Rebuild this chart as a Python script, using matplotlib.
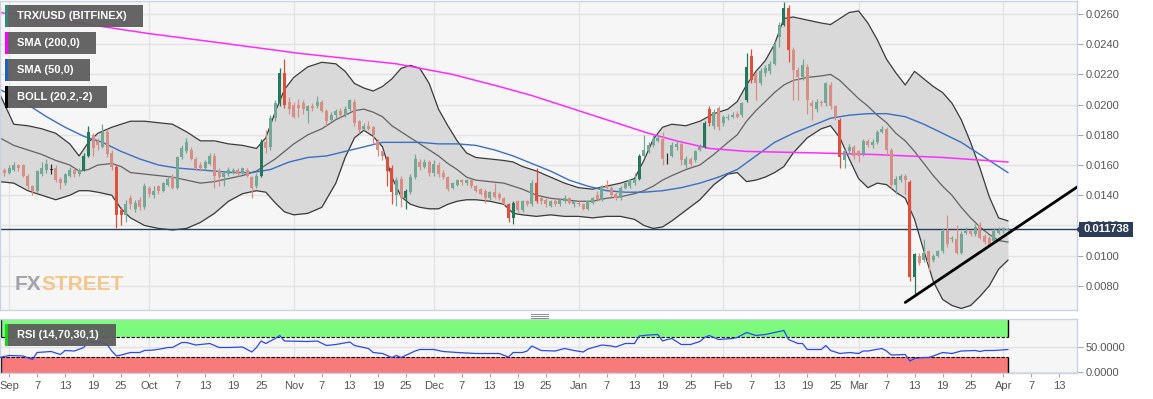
import datetime as dt
import numpy as np
import matplotlib
matplotlib.use("Agg")
import matplotlib.pyplot as plt
from matplotlib.patches import Rectangle, Polygon
from matplotlib.lines import Line2D

plt.rcParams['font.family'] = ['Liberation Sans', 'DejaVu Sans']

START = dt.date(2019, 9, 1)   # day 0, first candle is 31 Aug (day -1)

# daily TRX/USD candles, 31 Aug 2019 .. 2 Apr 2020
opens = [
    0.0157, 0.0155, 0.0157, 0.0160, 0.0160, 0.0153, 0.0146, 0.0143, 0.0154, 0.0157,
    0.0157, 0.0158, 0.0151, 0.0148, 0.0153, 0.0157, 0.0154, 0.0157, 0.0166, 0.0180,
    0.0176, 0.0172, 0.0182, 0.0168, 0.0159, 0.0130, 0.0127, 0.0138, 0.0131, 0.0137,
    0.0132, 0.0145, 0.0140, 0.0146, 0.0143, 0.0147, 0.0152, 0.0145, 0.0165, 0.0169,
    0.0170, 0.0164, 0.0160, 0.0158, 0.0161, 0.0166, 0.0156, 0.0152, 0.0154, 0.0155,
    0.0157, 0.0155, 0.0157, 0.0152, 0.0146, 0.0153, 0.0175, 0.0172, 0.0191, 0.0201,
    0.0221, 0.0202, 0.0200, 0.0200, 0.0201, 0.0196, 0.0199, 0.0199, 0.0202, 0.0196,
    0.0190, 0.0193, 0.0196, 0.0193, 0.0197, 0.0202, 0.0189, 0.0184, 0.0186, 0.0185,
    0.0176, 0.0169, 0.0165, 0.0158, 0.0140, 0.0151, 0.0138, 0.0142, 0.0152, 0.0162,
    0.0159, 0.0162, 0.0155, 0.0160, 0.0155, 0.0152, 0.0145, 0.0147, 0.0150, 0.0148,
    0.0150, 0.0146, 0.0144, 0.0143, 0.0138, 0.0142, 0.0141, 0.0138, 0.0134, 0.0125,
    0.0136, 0.0130, 0.0136, 0.0134, 0.0148, 0.0138, 0.0137, 0.0133, 0.0136, 0.0134,
    0.0136, 0.0138, 0.0134, 0.0135, 0.0134, 0.0131, 0.0135, 0.0140, 0.0137, 0.0147,
    0.0145, 0.0141, 0.0138, 0.0145, 0.0146, 0.0148, 0.0151, 0.0166, 0.0169, 0.0173,
    0.0176, 0.0177, 0.0165, 0.0166, 0.0172, 0.0174, 0.0160, 0.0164, 0.0163, 0.0170,
    0.0172, 0.0197, 0.0186, 0.0198, 0.0188, 0.0191, 0.0192, 0.0194, 0.0193, 0.0203,
    0.0232, 0.0220, 0.0214, 0.0221, 0.0222, 0.0227, 0.0245, 0.0253, 0.0264, 0.0236,
    0.0223, 0.0218, 0.0225, 0.0201, 0.0197, 0.0202, 0.0201, 0.0213, 0.0199, 0.0190,
    0.0163, 0.0169, 0.0172, 0.0169, 0.0167, 0.0176, 0.0173, 0.0175, 0.0182, 0.0184,
    0.0170, 0.0147, 0.0150, 0.0153, 0.0149, 0.0086, 0.0100, 0.0097, 0.0103, 0.0097,
    0.0100, 0.0103, 0.0117, 0.0111, 0.0111, 0.0102, 0.0115, 0.0116, 0.0114, 0.0120,
    0.0113, 0.0112, 0.0110, 0.0115, 0.0116, 0.0117,
]
highs = [
    0.0158, 0.0160, 0.0162, 0.0161, 0.0161, 0.0154, 0.0147, 0.0157, 0.0162, 0.0164,
    0.0161, 0.0160, 0.0152, 0.0155, 0.0159, 0.0158, 0.0158, 0.0168, 0.0186, 0.0181,
    0.0178, 0.0187, 0.0184, 0.0170, 0.0160, 0.0132, 0.0137, 0.0140, 0.0137, 0.0139,
    0.0148, 0.0146, 0.0146, 0.0147, 0.0149, 0.0153, 0.0154, 0.0166, 0.0173, 0.0178,
    0.0172, 0.0165, 0.0162, 0.0163, 0.0168, 0.0168, 0.0158, 0.0156, 0.0159, 0.0158,
    0.0158, 0.0159, 0.0158, 0.0153, 0.0155, 0.0177, 0.0183, 0.0193, 0.0203, 0.0224,
    0.0230, 0.0205, 0.0202, 0.0204, 0.0203, 0.0200, 0.0201, 0.0206, 0.0203, 0.0197,
    0.0195, 0.0197, 0.0198, 0.0199, 0.0204, 0.0204, 0.0190, 0.0188, 0.0189, 0.0186,
    0.0177, 0.0170, 0.0166, 0.0160, 0.0152, 0.0153, 0.0144, 0.0154, 0.0167, 0.0164,
    0.0164, 0.0163, 0.0163, 0.0162, 0.0157, 0.0153, 0.0149, 0.0151, 0.0151, 0.0151,
    0.0151, 0.0147, 0.0145, 0.0144, 0.0143, 0.0148, 0.0142, 0.0139, 0.0135, 0.0136,
    0.0137, 0.0137, 0.0137, 0.0150, 0.0158, 0.0139, 0.0138, 0.0137, 0.0138, 0.0138,
    0.0140, 0.0139, 0.0137, 0.0136, 0.0135, 0.0137, 0.0139, 0.0143, 0.0147, 0.0150,
    0.0146, 0.0142, 0.0146, 0.0149, 0.0151, 0.0155, 0.0167, 0.0180, 0.0175, 0.0180,
    0.0180, 0.0182, 0.0168, 0.0175, 0.0176, 0.0176, 0.0166, 0.0165, 0.0170, 0.0174,
    0.0189, 0.0199, 0.0197, 0.0199, 0.0193, 0.0194, 0.0195, 0.0196, 0.0202, 0.0234,
    0.0237, 0.0222, 0.0224, 0.0226, 0.0229, 0.0242, 0.0255, 0.0268, 0.0266, 0.0238,
    0.0225, 0.0230, 0.0227, 0.0203, 0.0204, 0.0203, 0.0215, 0.0215, 0.0200, 0.0191,
    0.0170, 0.0174, 0.0173, 0.0170, 0.0177, 0.0177, 0.0177, 0.0183, 0.0186, 0.0185,
    0.0171, 0.0153, 0.0154, 0.0154, 0.0150, 0.0102, 0.0102, 0.0111, 0.0104, 0.0101,
    0.0104, 0.0118, 0.0127, 0.0113, 0.0120, 0.0116, 0.0119, 0.0117, 0.0121, 0.0122,
    0.0114, 0.0113, 0.0118, 0.0119, 0.0119, 0.0119,
]
lows = [
    0.0153, 0.0154, 0.0156, 0.0156, 0.0152, 0.0144, 0.0140, 0.0142, 0.0153, 0.0155,
    0.0154, 0.0149, 0.0144, 0.0147, 0.0152, 0.0152, 0.0153, 0.0156, 0.0165, 0.0166,
    0.0170, 0.0171, 0.0165, 0.0157, 0.0118, 0.0120, 0.0122, 0.0131, 0.0129, 0.0130,
    0.0131, 0.0139, 0.0138, 0.0141, 0.0142, 0.0146, 0.0144, 0.0144, 0.0164, 0.0168,
    0.0163, 0.0157, 0.0156, 0.0157, 0.0160, 0.0145, 0.0146, 0.0146, 0.0153, 0.0154,
    0.0153, 0.0154, 0.0152, 0.0138, 0.0145, 0.0152, 0.0168, 0.0170, 0.0189, 0.0199,
    0.0198, 0.0194, 0.0191, 0.0192, 0.0194, 0.0188, 0.0196, 0.0198, 0.0195, 0.0186,
    0.0189, 0.0191, 0.0192, 0.0192, 0.0196, 0.0186, 0.0181, 0.0183, 0.0183, 0.0174,
    0.0166, 0.0163, 0.0146, 0.0134, 0.0133, 0.0132, 0.0131, 0.0141, 0.0151, 0.0157,
    0.0158, 0.0153, 0.0153, 0.0152, 0.0151, 0.0143, 0.0144, 0.0146, 0.0147, 0.0147,
    0.0145, 0.0142, 0.0140, 0.0135, 0.0137, 0.0138, 0.0137, 0.0133, 0.0122, 0.0121,
    0.0129, 0.0129, 0.0133, 0.0133, 0.0135, 0.0134, 0.0132, 0.0132, 0.0133, 0.0133,
    0.0135, 0.0134, 0.0132, 0.0133, 0.0130, 0.0130, 0.0134, 0.0136, 0.0136, 0.0144,
    0.0139, 0.0137, 0.0137, 0.0144, 0.0145, 0.0147, 0.0150, 0.0165, 0.0168, 0.0172,
    0.0175, 0.0160, 0.0161, 0.0165, 0.0170, 0.0160, 0.0158, 0.0159, 0.0162, 0.0169,
    0.0171, 0.0186, 0.0184, 0.0183, 0.0186, 0.0190, 0.0191, 0.0191, 0.0192, 0.0202,
    0.0214, 0.0203, 0.0213, 0.0219, 0.0220, 0.0226, 0.0238, 0.0252, 0.0228, 0.0203,
    0.0203, 0.0216, 0.0194, 0.0190, 0.0195, 0.0199, 0.0199, 0.0197, 0.0190, 0.0158,
    0.0158, 0.0167, 0.0164, 0.0162, 0.0166, 0.0172, 0.0171, 0.0174, 0.0181, 0.0166,
    0.0145, 0.0141, 0.0149, 0.0141, 0.0083, 0.0073, 0.0094, 0.0096, 0.0090, 0.0096,
    0.0099, 0.0102, 0.0106, 0.0109, 0.0101, 0.0101, 0.0114, 0.0113, 0.0113, 0.0111,
    0.0108, 0.0106, 0.0109, 0.0114, 0.0115, 0.0116,
]
closes = [
    0.0155, 0.0158, 0.0160, 0.0158, 0.0153, 0.0146, 0.0143, 0.0156, 0.0158, 0.0161,
    0.0157, 0.0150, 0.0148, 0.0154, 0.0157, 0.0154, 0.0157, 0.0166, 0.0182, 0.0171,
    0.0173, 0.0182, 0.0167, 0.0159, 0.0127, 0.0127, 0.0134, 0.0134, 0.0135, 0.0132,
    0.0146, 0.0141, 0.0143, 0.0143, 0.0148, 0.0151, 0.0145, 0.0165, 0.0171, 0.0175,
    0.0164, 0.0158, 0.0158, 0.0162, 0.0166, 0.0153, 0.0152, 0.0155, 0.0157, 0.0157,
    0.0154, 0.0158, 0.0153, 0.0145, 0.0153, 0.0175, 0.0171, 0.0191, 0.0201, 0.0221,
    0.0200, 0.0197, 0.0192, 0.0198, 0.0197, 0.0199, 0.0198, 0.0202, 0.0196, 0.0189,
    0.0193, 0.0196, 0.0193, 0.0197, 0.0203, 0.0188, 0.0183, 0.0186, 0.0184, 0.0180,
    0.0170, 0.0166, 0.0156, 0.0142, 0.0150, 0.0138, 0.0143, 0.0152, 0.0164, 0.0159,
    0.0162, 0.0155, 0.0161, 0.0154, 0.0152, 0.0144, 0.0148, 0.0150, 0.0149, 0.0150,
    0.0146, 0.0143, 0.0141, 0.0138, 0.0142, 0.0139, 0.0138, 0.0134, 0.0125, 0.0135,
    0.0130, 0.0136, 0.0134, 0.0148, 0.0136, 0.0136, 0.0134, 0.0136, 0.0134, 0.0137,
    0.0138, 0.0135, 0.0136, 0.0134, 0.0131, 0.0136, 0.0138, 0.0137, 0.0146, 0.0145,
    0.0140, 0.0138, 0.0145, 0.0148, 0.0150, 0.0151, 0.0166, 0.0170, 0.0173, 0.0177,
    0.0178, 0.0164, 0.0165, 0.0173, 0.0174, 0.0163, 0.0164, 0.0161, 0.0169, 0.0172,
    0.0188, 0.0188, 0.0195, 0.0185, 0.0192, 0.0192, 0.0193, 0.0192, 0.0201, 0.0225,
    0.0216, 0.0214, 0.0222, 0.0224, 0.0227, 0.0240, 0.0253, 0.0264, 0.0236, 0.0223,
    0.0218, 0.0226, 0.0203, 0.0199, 0.0202, 0.0201, 0.0214, 0.0199, 0.0192, 0.0165,
    0.0169, 0.0172, 0.0166, 0.0166, 0.0176, 0.0173, 0.0175, 0.0182, 0.0184, 0.0170,
    0.0147, 0.0151, 0.0153, 0.0150, 0.0086, 0.0101, 0.0095, 0.0102, 0.0096, 0.0100,
    0.0103, 0.0116, 0.0108, 0.0112, 0.0102, 0.0114, 0.0116, 0.0114, 0.0119, 0.0112,
    0.0109, 0.0107, 0.0116, 0.0117, 0.0118, 0.011738,
]
# candles drawn in full colour (touching / piercing the bands)
strong_days = [16, 17, 23, 24, 54, 58, 59, 81, 82, 85, 107, 108, 113, 135,
               149, 150, 158, 159, 166, 167, 178, 193, 194]

# Bollinger (20,2)
band_days = [-2, 1, 4, 7, 10, 13, 15, 17, 19, 22,
             24, 26, 29, 32, 35, 38, 41, 44, 47, 50,
             53, 55, 57, 59, 61, 64, 67, 70, 72, 74,
             76, 78, 80, 82, 84, 86, 88, 90, 92, 94,
             96, 98, 100, 103, 106, 108, 110, 113, 116, 119,
             122, 125, 128, 131, 134, 136, 138, 140, 142, 145,
             148, 151, 154, 156, 158, 160, 162, 164, 166, 168,
             171, 174, 176, 178, 180, 182, 184, 186, 188, 190,
             192, 194, 196, 198, 200, 202, 204, 206, 208, 210,
             212, 214]
boll_upper = [.0207, .0187, .0186, .0184, .0181, .0174, .0166, .0175, .0181, .0185,
              .0187, .0189, .0189, .0188, .0187, .0182, .0176, .0176, .0174, .0173,
              .0171, .0178, .0195, .0210, .0218, .0225, .0228, .0227, .0222, .0214,
              .0211, .0209, .0212, .0217, .0224, .0226, .0224, .0214, .0197, .0186,
              .0176, .0168, .0165, .0164, .0163, .0162, .0159, .0156, .0152, .0148,
              .0145, .0144, .0146, .0148, .0151, .0163, .0177, .0185, .0187, .0186,
              .0189, .0194, .0197, .0202, .0213, .0222, .0229, .0240, .0257, .0258,
              .0256, .0254, .0253, .0257, .0261, .0262, .0254, .0243, .0230, .0221,
              .0213, .0222, .0217, .0212, .0208, .0201, .0190, .0175, .0158, .0139,
              .0125, .0123]
boll_mid = [.0178, .0173, .0170, .0167, .0163, .0160, .0156, .0157, .0160, .0161,
            .0159, .0155, .0154, .0153, .0152, .0150, .0148, .0149, .0151, .0153,
            .0156, .0160, .0164, .0169, .0174, .0180, .0184, .0190, .0193, .0196,
            .0197, .0195, .0192, .0186, .0182, .0178, .0174, .0170, .0166, .0161,
            .0157, .0152, .0150, .0149, .0148, .0146, .0144, .0140, .0138, .0137,
            .0136, .0136, .0138, .0139, .0141, .0143, .0146, .0150, .0153, .0157,
            .0160, .0167, .0175, .0180, .0189, .0196, .0202, .0208, .0213, .0216,
            .0218, .0219, .0220, .0216, .0210, .0204, .0199, .0193, .0188, .0181,
            .0176, .0169, .0161, .0153, .0146, .0140, .0132, .0125, .0119, .0114,
            .0110, .0109]
boll_lower = [.0149, .0148, .0143, .0140, .0137, .0140, .0143, .0143, .0142, .0140,
              .0131, .0125, .0120, .0118, .0117, .0118, .0122, .0128, .0136, .0141,
              .0143, .0142, .0135, .0129, .0127, .0128, .0132, .0148, .0165, .0178,
              .0183, .0179, .0172, .0152, .0139, .0134, .0132, .0131, .0131, .0134,
              .0136, .0137, .0137, .0136, .0134, .0128, .0127, .0126, .0127, .0126,
              .0126, .0125, .0126, .0126, .0124, .0120, .0118, .0119, .0123, .0130,
              .0137, .0147, .0154, .0155, .0149, .0150, .0152, .0155, .0159, .0168,
              .0178, .0184, .0186, .0178, .0164, .0151, .0145, .0148, .0147, .0142,
              .0138, .0124, .0103, .0083, .0071, .0067, .0065, .0067, .0073, .0080,
              .0091, .0097]

sma50_days = [-2, 0, 4, 8, 12, 16, 20, 24, 28, 32,
              36, 40, 44, 48, 52, 56, 60, 64, 68, 72,
              76, 80, 84, 88, 92, 96, 100, 104, 108, 112,
              116, 120, 124, 128, 132, 136, 140, 144, 148, 152,
              156, 160, 164, 168, 172, 176, 180, 184, 188, 192,
              196, 200, 204, 208, 212, 214]
sma50_vals = [.0210, .0207, .0200, .0192, .0185, .0179, .0175, .0169, .0164, .0160,
              .0158, .0157, .0156, .0155, .0155, .0157, .0162, .0165, .0166, .0169,
              .0172, .0175, .0175, .0175, .0174, .0174, .0173, .0170, .0166, .0161,
              .0156, .0150, .0146, .0143, .0142, .0142, .0143, .0145, .0148, .0152,
              .0157, .0166, .0175, .0181, .0186, .0191, .0193, .0194, .0194, .0192,
              .0187, .0181, .0175, .0167, .0159, .0155]

sma200_days = [-2, 15, 30, 45, 62, 83, 95, 105, 112, 118,
               126, 132, 137, 143, 150, 158, 173, 185, 200, 214]
sma200_vals = [.0261, .0254, .0247, .0241, .0234, .0227, .0220, .0212, .0206, .0200,
               .0192, .0186, .0181, .0176, .0171, .0169, .0168, .0167, .0165, .0162]

rsi_days = [-2, 0, 3, 5, 6, 9, 11, 12, 14, 16, 17, 18, 19, 21, 22, 23, 24, 26, 28, 29,
            31, 33, 34, 35, 37, 38, 40, 41, 43, 45, 47, 50, 52, 53, 54, 55, 57, 58, 59, 64,
            66, 68, 70, 73, 74, 77, 78, 80, 82, 83, 84, 87, 88, 91, 93, 96, 100, 103, 105, 107,
            108, 110, 111, 112, 114, 117, 119, 121, 123, 124, 127, 129, 130, 132, 134, 135, 137, 139, 140, 141,
            142, 144, 146, 148, 149, 150, 152, 155, 156, 158, 160, 162, 164, 166, 167, 169, 170, 171, 174, 175,
            176, 178, 180, 182, 183, 184, 187, 188, 189, 192, 193, 194, 196, 197, 198, 200, 202, 204, 207, 208,
            209, 211, 214]
rsi_vals = [29, 33, 32, 25, 39, 41, 35, 43, 42, 49, 62, 59, 61, 55, 42, 32, 34, 39, 39, 43,
            44, 47, 49, 49, 59, 59, 54, 55, 57, 49, 49, 50, 40, 49, 62, 57, 67, 73, 62, 61,
            62, 53, 55, 60, 53, 47, 39, 37, 29, 33, 29, 42, 45, 45, 41, 39, 37, 37, 37, 30,
            39, 39, 42, 52, 43, 42, 47, 43, 40, 46, 54, 52, 50, 57, 57, 72, 74, 75, 62, 65,
            67, 55, 55, 61, 69, 73, 65, 67, 69, 79, 73, 75, 79, 83, 65, 57, 57, 45, 45, 53,
            43, 37, 39, 37, 42, 42, 47, 42, 34, 35, 22, 27, 29, 29, 32, 39, 37, 42, 43, 41,
            43, 43, 45]

last_price = 0.011738
trend_days = [192, 232]
trend_vals = [0.0069, 0.0152]

# ---------------------------------------------------------------- layout
W, H = 1153, 399
fig = plt.figure(figsize=(W / 100, H / 100), dpi=100)
fig.patch.set_facecolor('white')


def px_rect(x0, y0, x1, y1):
    return [x0 / W, 1 - y1 / H, (x1 - x0) / W, (y1 - y0) / H]


ax = fig.add_axes(px_rect(0, 1, 1077, 310))
rx = fig.add_axes(px_rect(0, 319, 1077, 373))

BG = '#f6f6f6'
GRID = '#e3e3e3'
SPINE = '#cbd2e4'
XMIN, XMAX = -1.95, 228.8

# month starts and the 7/13/19/25 labels
tick_pos, tick_lab, month_pos = [], [], []
for yy, mm in [(2019, 9), (2019, 10), (2019, 11), (2019, 12),
               (2020, 1), (2020, 2), (2020, 3), (2020, 4)]:
    month_pos.append((dt.date(yy, mm, 1) - START).days)
    for dd in (1, 7, 13, 19, 25):
        dte = dt.date(yy, mm, dd)
        pos = (dte - START).days
        if XMIN <= pos <= XMAX:
            tick_pos.append(pos)
            tick_lab.append(dte.strftime('%b') if dd == 1 else str(dd))

for a in (ax, rx):
    a.set_facecolor(BG)
    a.set_axisbelow(True)
    for s in a.spines.values():
        s.set_color(SPINE)
        s.set_linewidth(1)
    a.yaxis.tick_right()
    a.tick_params(axis='y', which='both', length=4, width=0.8, color='#a8a8a8',
                  labelsize=8, labelcolor='#555555', pad=2, left=False)
    for m in month_pos:
        a.axvline(m, color=GRID, lw=1, zorder=0)

# ---------------------------------------------------------------- price panel
ax.set_ylim(0.0064, 0.02686)
ax.set_yticks(np.arange(0.008, 0.02601, 0.002))
ax.yaxis.set_major_formatter(matplotlib.ticker.FormatStrFormatter('%.4f'))
ax.grid(axis='y', color=GRID, lw=1)
ax.set_xticks([])

ax.fill_between(band_days, boll_lower, boll_upper, color='#d9d9d9', lw=0, zorder=1)

wm_font = ['Liberation Sans', 'DejaVu Sans']
ax.text(15 / 1077, 0.066, 'FX', transform=ax.transAxes, fontsize=15,
        fontweight='bold', color='#a2a3ab', va='baseline', ha='left', zorder=1.2,
        family=wm_font)
fx = ax.texts[-1]
ax.annotate('STREET', xy=(1, 0), xycoords=fx, xytext=(0, 0), textcoords='offset points',
            fontsize=15, fontweight='bold', color='#f3c68c', va='bottom', ha='left',
            zorder=1.2, family=wm_font)

ax.plot(band_days, boll_upper, color='#3a3a3a', lw=0.9, zorder=2)
ax.plot(band_days, boll_lower, color='#3a3a3a', lw=0.9, zorder=2)
ax.plot(band_days, boll_mid, color='#626262', lw=0.9, zorder=2)
ax.plot(sma50_days, sma50_vals, color='#3b6ec6', lw=1.0, zorder=2.2)
ax.plot(sma200_days, sma200_vals, color='#ff2cff', lw=1.1, zorder=2.2)

ax.axhline(last_price, color='#2b3d58', lw=1, zorder=2.5)

days = np.arange(len(closes)) - 1
o, h, l, c = (np.array(v) for v in (opens, highs, lows, closes))
up = c > o
strong = np.isin(days, strong_days)
cols = np.where(up, np.where(strong, '#23775a', '#72a895'),
                np.where(strong, '#de4f3c', '#d78e84')).astype(object)
flat = np.isclose(o, c, atol=1e-6)
cols[flat] = '#2a2a2a'
ax.vlines(days, l, h, colors=list(cols), lw=0.9, zorder=4)
ax.bar(days, np.maximum(np.abs(c - o), 0.00005), bottom=np.minimum(o, c), width=0.64,
       color=list(cols), lw=0, zorder=5)

ax.plot(trend_days, trend_vals, color='black', lw=2.0, zorder=6, solid_capstyle='round')

# ---------------------------------------------------------------- RSI panel
rx.set_ylim(-2, 106)
rx.set_yticks([0, 50])
rx.yaxis.set_major_formatter(matplotlib.ticker.FormatStrFormatter('%.4f'))
rx.grid(axis='y', color=GRID, lw=1)
x0, x1 = days[0] - 0.7, days[-1]
rx.fill_between([x0, x1], 70, 106, color='#7df97d', lw=0, zorder=1)
rx.fill_between([x0, x1], -2, 30, color='#f87b7b', lw=0, zorder=1)
rx.hlines([70, 30], x0, x1, colors='black', linestyles=(0, (3, 1.5)), lw=0.8, zorder=2)
rx.vlines([x0, x1], 70, 106, colors='black', lw=1, zorder=2)
rx.vlines([x0, x1], -2, 30, colors='black', lw=1, zorder=2)
rx.plot(rsi_days, rsi_vals, color='#2a48f2', lw=0.9, zorder=3)

rx.set_xticks(tick_pos)
rx.set_xticklabels(tick_lab)
rx.tick_params(axis='x', length=3, width=0.8, color='#a8a8a8', labelsize=8,
               labelcolor='#555555', pad=3)

for a in (ax, rx):
    a.set_xlim(XMIN, XMAX)

# ---------------------------------------------------------------- overlays


def label_box(x0, y0, x1, y1, stripe, text):
    fig.add_artist(Rectangle((x0 / W, 1 - y1 / H), (x1 - x0) / W, (y1 - y0) / H,
                             transform=fig.transFigure, fc='#5d5d5d', ec='none', alpha=0.95))
    fig.add_artist(Rectangle((x0 / W, 1 - y1 / H), 3 / W, (y1 - y0) / H,
                             transform=fig.transFigure, fc=stripe, ec='none'))
    fig.text((x0 + 12) / W, 1 - (y0 + y1) / 2 / H, text, color='white', fontsize=8,
             fontweight='bold', va='center', ha='left')


label_box(5, 5, 143, 27, '#2e8b74', 'TRX/USD (BITFINEX)')
label_box(5, 32, 96, 54, '#ff00ff', 'SMA (200,0)')
label_box(5, 59, 90, 81, '#1f5fbf', 'SMA (50,0)')
label_box(5, 86, 107, 108, '#000000', 'BOLL (20,2,-2)')
label_box(5, 324, 116, 346, '#17d417', 'RSI (14,70,30,1)')

# current price tag on the axis
yp = 229.5
fig.add_artist(Polygon([(1076 / W, 1 - yp / H), (1080 / W, 1 - (yp - 4) / H),
                        (1080 / W, 1 - (yp + 4) / H)], closed=True,
                       transform=fig.transFigure, fc='#2b3d58', ec='none'))
fig.add_artist(Rectangle((1079 / W, 1 - 237 / H), 54 / W, 15 / H,
                         transform=fig.transFigure, fc='#2b3d58', ec='none'))
fig.text(1106 / W, 1 - yp / H, '0.011738', color='white', fontsize=8,
         fontweight='bold', ha='center', va='center')

# panel resize grip
for gy in (313.5, 315.5, 317.5):
    fig.add_artist(Line2D([531 / W, 548 / W], [1 - gy / H, 1 - gy / H],
                          transform=fig.transFigure, color='#8a8a8a', lw=0.7))

fig.savefig('out.png', dpi=100)
